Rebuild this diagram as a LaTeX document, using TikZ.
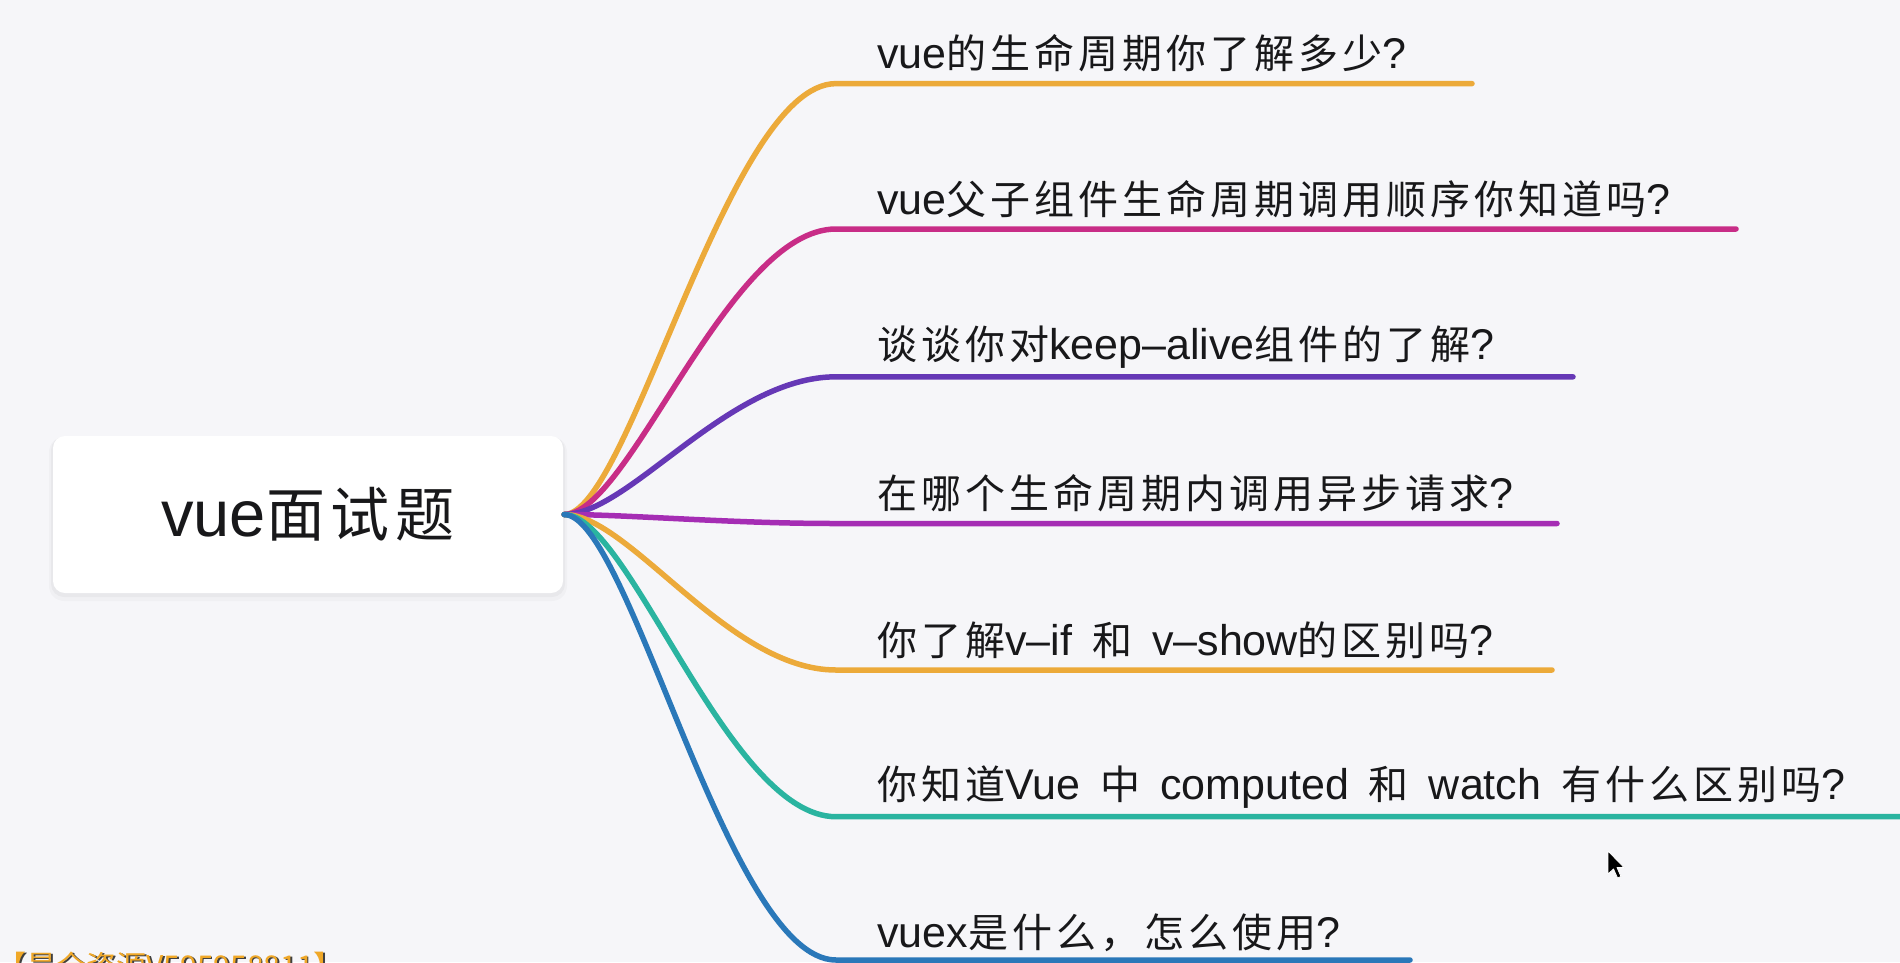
\documentclass[tikz,border=0pt]{standalone}
\usepackage{fontspec}
\setmainfont{Noto Sans CJK SC}
\newfontfamily\cjk{Noto Sans CJK SC}[LetterSpace=10]
\newfontfamily\latf{Liberation Sans}
\newfontfamily\cjkwm{Noto Sans CJK SC}[BoldFont=*]
\newcommand\lat[1]{{\latf\fontsize{43}{47}\selectfont #1}}
\newcommand\latroot[1]{{\latf\fontsize{65}{70}\selectfont #1}}
\newcommand\gap{\hspace{20pt}}
\usetikzlibrary{calc}
\definecolor{bg}{RGB}{246,246,249}
\definecolor{txt}{RGB}{24,24,26}
\definecolor{cOrange}{RGB}{236,170,58}
\definecolor{cMagenta}{RGB}{200,45,135}
\definecolor{cPurple}{RGB}{102,56,182}
\definecolor{cViolet}{RGB}{165,45,180}
\definecolor{cTeal}{RGB}{42,180,160}
\definecolor{cBlue}{RGB}{42,120,185}
\definecolor{wmorange}{RGB}{240,168,40}
\tikzset{
  branch/.style={line width=5.5pt, line cap=round},
  lbl/.style={anchor=west, inner sep=0pt, text=txt, font=\cjk\fontsize{40}{46}\selectfont},
  rootbox/.style={fill=white, rounded corners=12pt, minimum width=510pt, minimum height=157pt,
    inner sep=0pt, text=txt, font=\cjk\fontsize{59}{66}\selectfont},
  wmtext/.style={anchor=base east, inner sep=0pt, font=\cjkwm\bfseries\fontsize{30}{30}\selectfont},
}
\begin{document}
\begin{tikzpicture}[x=1pt,y=-1pt]
\useasboundingbox (0,0) rectangle (1900,962);
\clip (0,0) rectangle (1900,962);
\fill[bg] (0,0) rectangle (1900,962);
% soft shadow of the root box
\fill[black, opacity=0.025, rounded corners=15pt] (49,437) rectangle (567,601);
\fill[black, opacity=0.03, rounded corners=13pt] (51,437) rectangle (565,597);
\node[rootbox] (root) at (308,514.5) {\latroot{vue}面试题};
\coordinate (o) at ($(root.east)+(1,0)$);

% branch end points
\coordinate (s1) at (836,83.6);  \coordinate (e1) at (1472,83.6);
\coordinate (s2) at (836,229);   \coordinate (e2) at (1736,229);
\coordinate (s3) at (836,376.8); \coordinate (e3) at (1573,376.8);
\coordinate (s4) at (836,523.5); \coordinate (e4) at (1557,523.5);
\coordinate (s5) at (836,670);   \coordinate (e5) at (1552,670);
\coordinate (s6) at (836,816.7); \coordinate (e6) at (1920,816.7);
\coordinate (s7) at (836,960);   \coordinate (e7) at (1410,960);

\draw[branch, cOrange]  (o) .. controls ($(o)+(65,0)$) and ($(s1)+(-108,0)$) .. (s1) -- (e1);
\draw[branch, cMagenta] (o) .. controls ($(o)+(65,0)$) and ($(s2)+(-108,0)$) .. (s2) -- (e2);
\draw[branch, cPurple]  (o) .. controls ($(o)+(65,0)$) and ($(s3)+(-108,0)$) .. (s3) -- (e3);
\draw[branch, cViolet]  (o) .. controls ($(o)+(65,0)$) and ($(s4)+(-108,0)$) .. (s4) -- (e4);
\draw[branch, cOrange]  (o) .. controls ($(o)+(65,0)$) and ($(s5)+(-108,0)$) .. (s5) -- (e5);
\draw[branch, cTeal]    (o) .. controls ($(o)+(65,0)$) and ($(s6)+(-108,0)$) .. (s6) -- (e6);
\draw[branch, cBlue]    (o) .. controls ($(o)+(65,0)$) and ($(s7)+(-108,0)$) .. (s7) -- (e7);

\node[lbl] (l1) at (877,53.6)  {\lat{vue}的生命周期你了解多少\lat{?}};
\node[lbl] (l2) at (877,199)   {\lat{vue}父子组件生命周期调用顺序你知道吗\lat{?}};
\node[lbl] (l3) at (877,346.8) {谈谈你对\lat{keep–alive}组件的了解\lat{?}};
\node[lbl] (l4) at (877,493.5) {在哪个生命周期内调用异步请求\lat{?}};
\node[lbl] (l5) at (877,640)   {你了解\lat{v–if}\gap 和\gap\lat{v–show}的区别吗\lat{?}};
\node[lbl] (l6) at (877,786.7) {你知道\lat{Vue}\gap 中\gap\lat{computed}\gap 和\gap\lat{watch}\gap 有什么区别吗\lat{?}};
\node[lbl] (l7) at (877,933)   {\lat{vuex}是什么，怎么使用\lat{?}};

% watermark, cut by the lower edge
\node[wmtext, text=black!75] (wms) at (345.5,978.5) {【最全资源V595958811】};
\node[wmtext, text=wmorange] (wm) at (344,977) {【最全资源V595958811】};

% mouse pointer
\fill[black, draw=white, line width=0.8pt, line join=round]
  (1608,851) -- (1608,874) -- (1613.5,869) -- (1617.5,878) -- (1621,876.5) -- (1617,867.5) -- (1624,867.5) -- cycle;
\end{tikzpicture}
\end{document}
